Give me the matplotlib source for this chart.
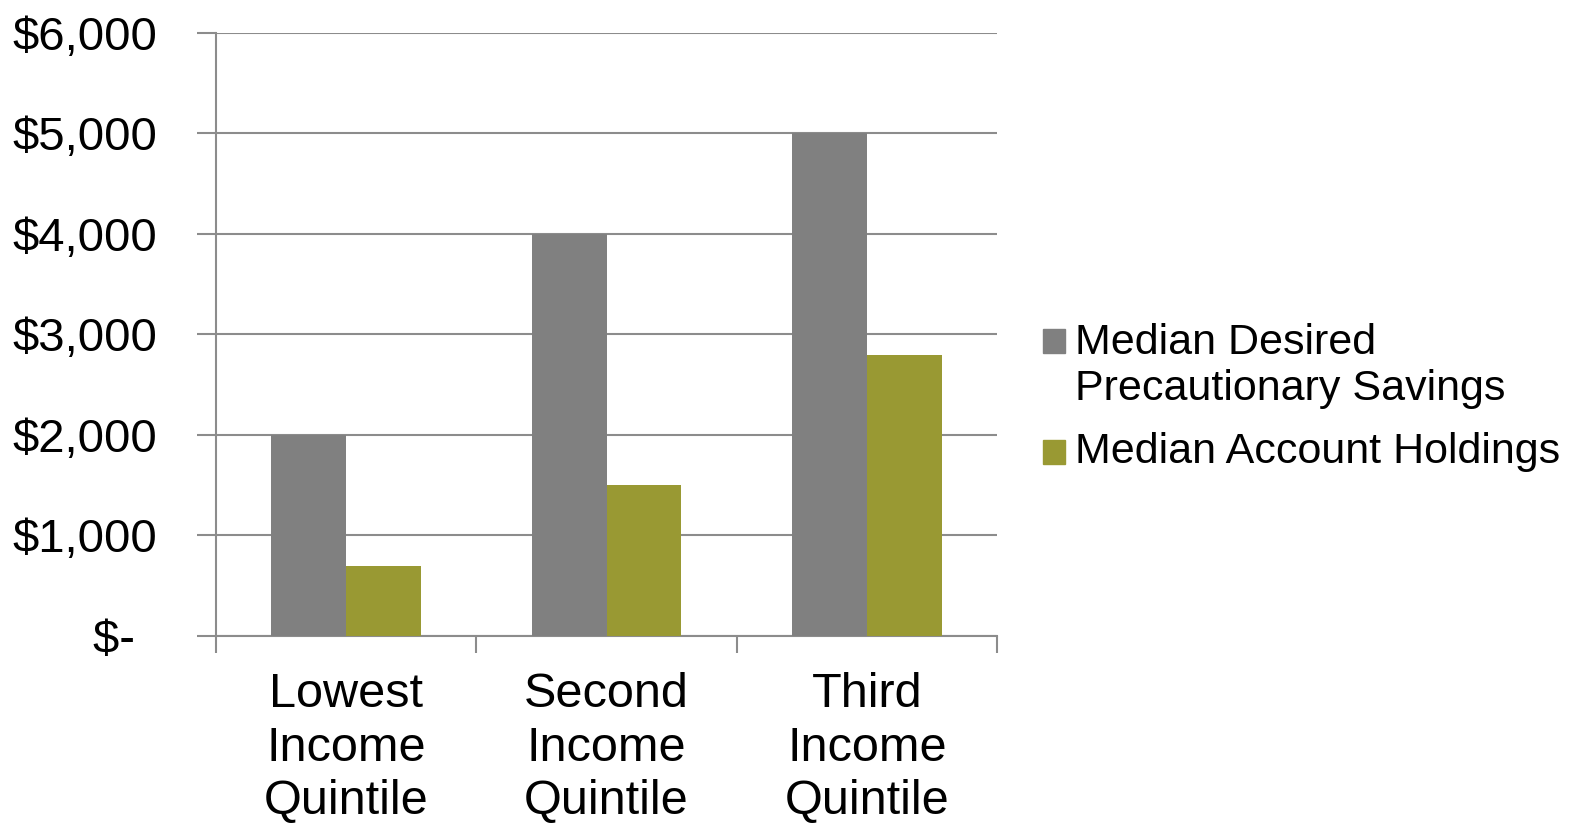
import matplotlib.pyplot as plt
import numpy as np
from matplotlib.ticker import FuncFormatter
from matplotlib.patches import Patch, Rectangle
from matplotlib.legend_handler import HandlerPatch

plt.rcParams['font.family'] = ['Liberation Sans', 'DejaVu Sans']

categories = ["Lowest\nIncome\nQuintile", "Second\nIncome\nQuintile", "Third\nIncome\nQuintile"]
desired = [2000, 4000, 5000]
holdings = [700, 1500, 2800]
series_names = ["Median Desired\nPrecautionary Savings", "Median Account Holdings"]
colors = ["#808080", "#999933"]
yticks = [0, 1000, 2000, 3000, 4000, 5000, 6000]


def money(v, pos):
    # accounting style: zero shows as a dash
    if v == 0:
        return "$- \u2009"
    return "${:,.0f}".format(v)


def square_at(dy):
    # legend square, moved up/down so it sits next to the first text line
    def f(legend, orig_handle, xdescent, ydescent, width, height, fontsize):
        return Rectangle((-xdescent, -ydescent + dy), width, height)
    return HandlerPatch(patch_func=f)


fig = plt.figure(figsize=(15.7, 8.23), dpi=100)
ax = fig.add_axes([0.1376, 0.2272, 0.4975, 0.7328])

x = np.arange(len(categories))
w = 0.287
ax.bar(x - w / 2, desired, w, color=colors[0], zorder=3)
ax.bar(x + w / 2, holdings, w, color=colors[1], zorder=3)

ax.set_xlim(-0.5, 2.5)
ax.set_ylim(0, 6000)
ax.set_yticks(yticks)
ax.yaxis.set_major_formatter(FuncFormatter(money))
ax.grid(axis="y", color="#8c8c8c", linewidth=1.5, zorder=0)

# category labels centred, tick marks on the boundaries
ax.set_xticks(x)
ax.set_xticklabels(categories, fontsize=35, linespacing=1.24)
ax.set_xticks([-0.5, 0.5, 1.5, 2.5], minor=True)
ax.tick_params(axis="x", which="major", length=0, pad=26)
ax.tick_params(axis="x", which="minor", length=12, width=1.5, color="#8c8c8c", direction="out")
ax.tick_params(axis="y", length=14, width=1.5, color="#8c8c8c", labelsize=34, pad=28)

for s in ["top", "right"]:
    ax.spines[s].set_visible(False)
for s in ["left", "bottom"]:
    ax.spines[s].set_color("#8c8c8c")
    ax.spines[s].set_linewidth(1.5)

h1 = Patch(color=colors[0])
h2 = Patch(color=colors[1])
ax.legend([h1, h2], series_names, loc="center left", bbox_to_anchor=(1.059, 0.395),
          frameon=False, fontsize=31, handlelength=0.51, handleheight=0.51,
          handletextpad=0.23, labelspacing=0.53, borderpad=0, borderaxespad=0,
          handler_map={h1: square_at(18.4), h2: square_at(-2.9)})

fig.savefig("out.png", dpi=100)
